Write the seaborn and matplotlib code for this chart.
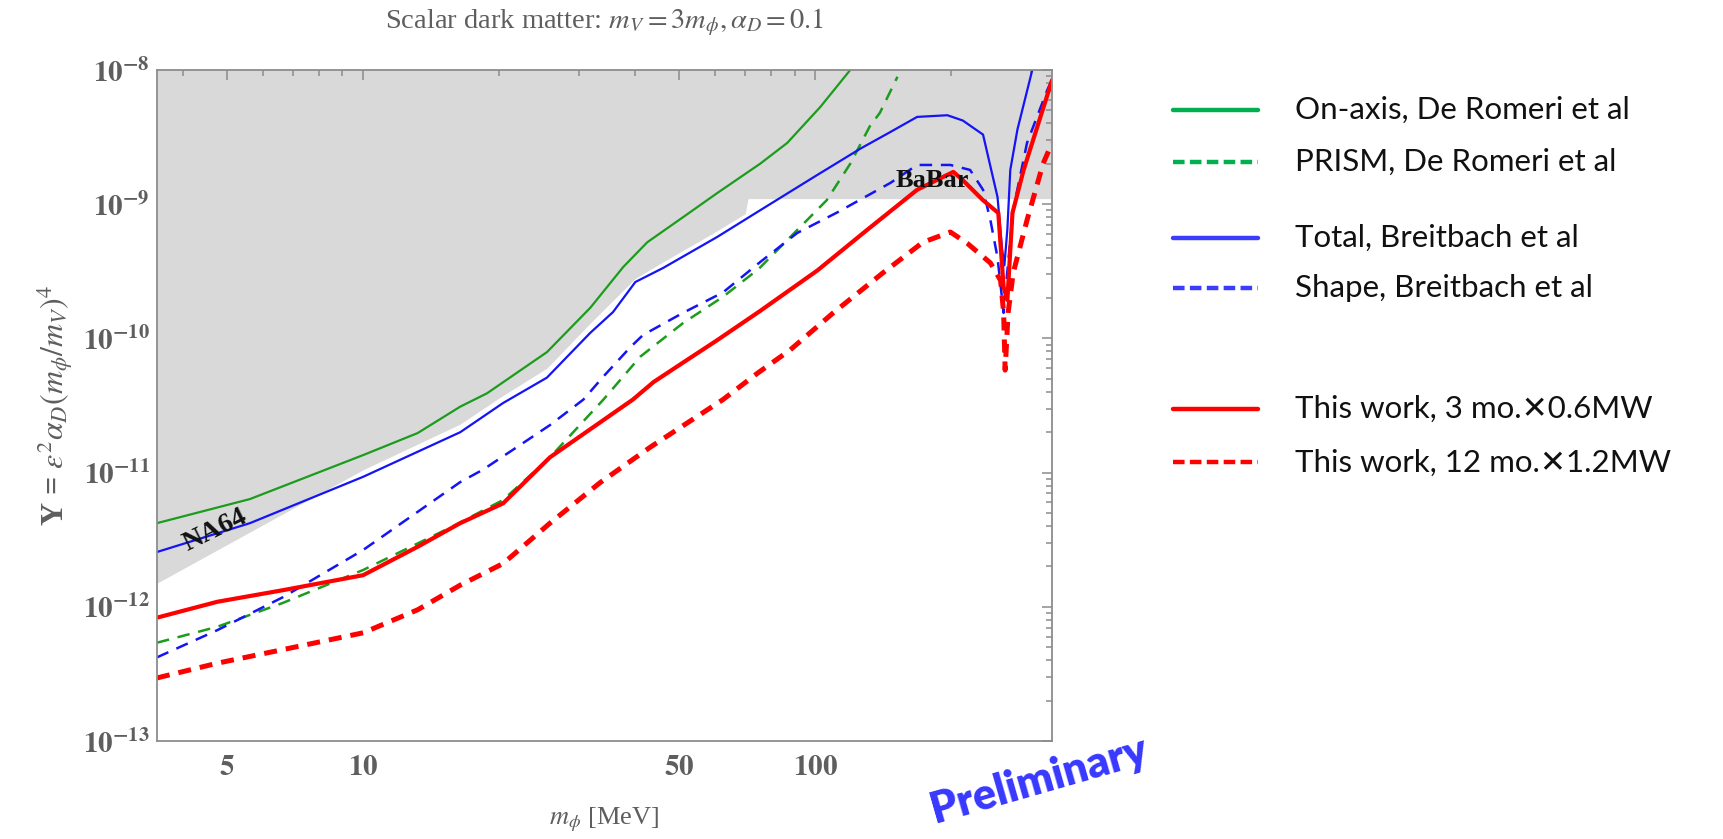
import numpy as np
import pandas as pd
import seaborn as sns
import matplotlib.pyplot as plt
from matplotlib.lines import Line2D
from matplotlib.ticker import FixedLocator, FixedFormatter, LogLocator, NullFormatter

# seaborn options
sns.set_theme(style="white")
plt.rcParams['font.family'] = ['Liberation Serif', 'DejaVu Serif']
plt.rcParams['mathtext.fontset'] = 'stix'

# color storage
green = '#1c9c1c'
blue = '#1414f5'
red = '#ff0000'
shade = '#d9d9d9'
axis_gray = '#8c8c8c'
label_gray = '#5e5e5e'
leg_green = '#00b050'
leg_blue = '#3c3cff'

# === curves (m_phi in MeV, Y) ===
onaxis_m = [3.5, 5.62, 10, 13.2, 16.4, 18.8, 25.5, 31.8, 37.6, 42.5, 51.0, 60.7, 75.5, 86.7, 102.6, 119.5, 126]
onaxis_y = [4.2e-12, 6.35e-12, 1.35e-11, 1.97e-11, 3.1e-11, 3.9e-11, 7.9e-11, 1.69e-10, 3.4e-10, 5.2e-10,
            8.0e-10, 1.21e-9, 2.0e-9, 2.86e-9, 5.3e-9, 1.0e-8, 1.3e-8]

prism_m = [3.5, 4.76, 6.65, 10, 15.6, 20.4, 25.9, 34, 41, 51, 62.5, 75, 89, 106, 119.5, 132, 139, 152]
prism_y = [5.4e-13, 7.1e-13, 1.07e-12, 1.88e-12, 3.9e-12, 6.25e-12, 1.3e-11, 3.5e-11, 7.3e-11, 1.3e-10,
           2.04e-10, 3.3e-10, 5.9e-10, 1.07e-9, 2.0e-9, 3.8e-9, 4.8e-9, 8.9e-9]

total_m = [3.5, 5.62, 10, 16.4, 20.4, 25.5, 31.8, 35.7, 40, 46.1, 60.7, 75.5, 101, 126, 146.6, 168, 196, 212,
           235, 253, 259, 262, 266, 270, 280, 302, 315]
total_y = [2.56e-12, 4.2e-12, 9.3e-12, 2.0e-11, 3.3e-11, 5.1e-11, 1.1e-10, 1.57e-10, 2.63e-10, 3.35e-10,
           5.7e-10, 9.0e-10, 1.65e-9, 2.6e-9, 3.45e-9, 4.47e-9, 4.6e-9, 4.2e-9, 3.3e-9, 1.13e-9, 4.6e-10,
           3.5e-10, 6.5e-10, 1.8e-9, 3.6e-9, 1.0e-8, 1.4e-8]

shape_m = [3.5, 4.76, 6.65, 10, 16.4, 18.4, 21.9, 25.9, 30.7, 34, 39, 41.6, 51, 62.5, 75.5, 91.2, 112, 146.6,
           168, 199, 220, 235, 244, 253, 261, 267, 274, 294, 326, 334]
shape_y = [4.2e-13, 6.7e-13, 1.18e-12, 2.65e-12, 8.5e-12, 1.05e-11, 1.55e-11, 2.26e-11, 3.5e-11, 5.2e-11,
           8.6e-11, 1.06e-10, 1.55e-10, 2.2e-10, 3.7e-10, 6.1e-10, 8.7e-10, 1.44e-9, 1.96e-9, 1.96e-9,
           1.8e-9, 1.28e-9, 7.6e-10, 4.0e-10, 1.55e-10, 3.65e-10, 9.1e-10, 2.86e-9, 7.1e-9, 8.5e-9]

work3_m = [3.5, 4.76, 6.65, 10, 13.2, 16.4, 20.4, 25.9, 39.5, 43.9, 51, 60.7, 75.5, 101, 130, 168, 202, 212,
           235, 254, 261, 266, 273, 289, 334]
work3_y = [8.3e-13, 1.09e-12, 1.33e-12, 1.72e-12, 2.8e-12, 4.2e-12, 5.9e-12, 1.3e-11, 3.5e-11, 4.73e-11,
           6.6e-11, 9.7e-11, 1.6e-10, 3.2e-10, 6.4e-10, 1.28e-9, 1.74e-9, 1.51e-9, 1.07e-9, 8.6e-10, 2.4e-10,
           1.93e-10, 8.6e-10, 1.8e-9, 8.4e-9]

work12_m = [3.5, 4.76, 6.65, 10, 13.2, 16.4, 20.4, 25.9, 33.4, 43.2, 62.5, 74.5, 88, 109.6, 141, 173, 199, 217,
            244, 257, 261, 263, 267, 274, 294, 319, 334]
work12_y = [2.95e-13, 3.8e-13, 4.8e-13, 6.4e-13, 9.5e-13, 1.45e-12, 2.1e-12, 4.2e-12, 8.4e-12, 1.55e-11,
            3.5e-11, 5.5e-11, 8.2e-11, 1.55e-10, 3.07e-10, 5.2e-10, 6.2e-10, 5.1e-10, 3.65e-10, 2.7e-10,
            1.55e-10, 5.8e-11, 1.55e-10, 3.07e-10, 7.6e-10, 2.0e-9, 2.86e-9]

# lower edge of the excluded (NA64 + BaBar) region
excl_m = [3.5, 10, 16.4, 20, 25.5, 31.8, 40, 46, 60, 70, 71, 334]
excl_y = [1.5e-12, 1.05e-11, 2.3e-11, 3.6e-11, 6e-11, 1.3e-10, 2.8e-10, 3.7e-10, 6.2e-10, 8.5e-10, 1.1e-9, 1.1e-9]

x_major = [5, 10, 50, 100]
x_minor = [4, 6, 7, 8, 9, 20, 30, 40, 60, 70, 80, 90, 200, 300]
y_decades = [-13, -12, -11, -10, -9, -8]

legend_labels = ['On-axis, De Romeri et al', 'PRISM, De Romeri et al',
                 'Total, Breitbach et al', 'Shape, Breitbach et al',
                 'This work, 3 mo.\u27150.6MW', 'This work, 12 mo.\u27151.2MW']

fig = plt.figure(figsize=(17.23, 8.39), dpi=100)
ax = fig.add_axes([0.0911, 0.1168, 0.5195, 0.7998])
ax.set_facecolor('white')

ax.fill_between(excl_m, excl_y, 1e-7, color=shade, linewidth=0, zorder=0)

series = [
    (onaxis_m, onaxis_y, green, 1.6, '-'),
    (prism_m, prism_y, green, 1.8, (0, (5, 3.5))),
    (total_m, total_y, blue, 1.6, '-'),
    (shape_m, shape_y, blue, 1.8, (0, (5, 3.5))),
    (work3_m, work3_y, red, 3.0, '-'),
    (work12_m, work12_y, red, 3.6, (0, (2.6, 1.8))),
]
for m, y, c, lw, ls in series:
    df = pd.DataFrame({'m': m, 'Y': y})
    sns.lineplot(data=df, x='m', y='Y', color=c, linewidth=lw, linestyle=ls,
                 errorbar=None, sort=False, ax=ax)

ax.set_xscale('log')
ax.set_yscale('log')
ax.set_xlim(3.5, 334)
ax.set_ylim(1e-13, 1e-8)

ax.xaxis.set_major_locator(FixedLocator(x_major))
ax.xaxis.set_major_formatter(FixedFormatter([r'$\mathbf{%d}$' % v for v in x_major]))
ax.xaxis.set_minor_locator(FixedLocator(x_minor))
ax.xaxis.set_minor_formatter(NullFormatter())
ax.yaxis.set_major_locator(FixedLocator([10.0 ** d for d in y_decades]))
ax.yaxis.set_major_formatter(FixedFormatter([r'$\mathbf{10^{%d}}$' % d for d in y_decades]))
ax.yaxis.set_minor_locator(LogLocator(base=10, subs=np.arange(2, 10), numticks=20))
ax.yaxis.set_minor_formatter(NullFormatter())

ax.tick_params(which='both', direction='in', top=True, right=True, color=axis_gray, width=1.1)
ax.tick_params(which='major', length=7, labelsize=21, labelcolor=label_gray)
ax.tick_params(which='minor', length=4.5)
ax.tick_params(axis='x', pad=10)
ax.tick_params(axis='y', pad=5)
for s in ax.spines.values():
    s.set_color(axis_gray)
    s.set_linewidth(1.3)

ax.set_xlabel(r'$m_\phi$ [MeV]', fontsize=19, color=label_gray, labelpad=18)
ax.set_ylabel(r'Y = $\epsilon^2\alpha_D(m_\phi/m_V)^4$', fontsize=23, color=label_gray, labelpad=6,
              fontweight='bold')
ax.set_title(r'Scalar dark matter: $m_V = 3m_\phi, \alpha_D = 0.1$', fontsize=20.5,
             color=label_gray, pad=30)

ax.text(4.7, 3.7e-12, 'NA64', fontsize=20, fontweight='bold', rotation=26,
        ha='center', va='center', color='#111111')
ax.text(182, 1.5e-9, 'BaBar', fontsize=19, fontweight='bold',
        ha='center', va='center', color='#111111')

# legend drawn by hand on the right
leg_y = [0.869, 0.807, 0.716, 0.657, 0.5125, 0.449]
leg_style = [(leg_green, '-'), (leg_green, (0, (2.6, 1.2))), (leg_blue, '-'),
             (leg_blue, (0, (2.6, 1.2))), (red, '-'), (red, (0, (2.6, 1.2)))]
for yy, (c, ls), lab in zip(leg_y, leg_style, legend_labels):
    fig.add_artist(Line2D([0.681, 0.730], [yy, yy], color=c, linewidth=3.2, linestyle=ls,
                          transform=fig.transFigure))
    fig.text(0.7516, yy, lab, fontsize=22.5, family=['Lato', 'DejaVu Sans'], color='#111111',
             va='center', ha='left')

fig.text(0.603, 0.07, 'Preliminary', fontsize=31, fontweight='heavy', family=['Lato', 'DejaVu Sans'],
         color='#3838ff', rotation=16, ha='center', va='center')

plt.savefig('out.png', dpi=100)
plt.close()
